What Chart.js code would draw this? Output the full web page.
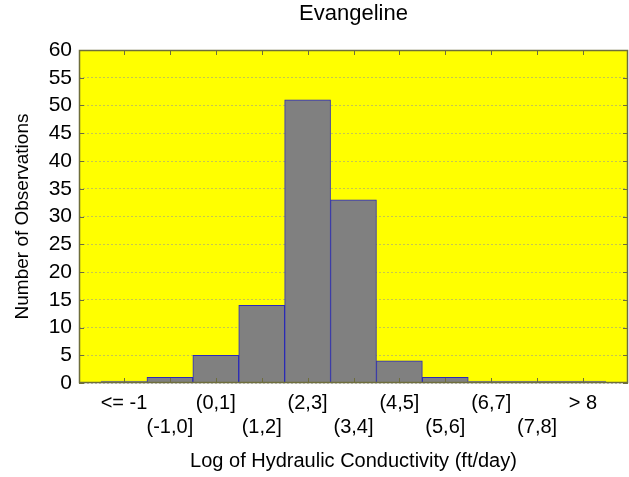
<!DOCTYPE html>
<html>
<head>
<meta charset="utf-8">
<script src="https://cdn.jsdelivr.net/npm/chart.js@4/dist/chart.umd.min.js"></script>
<style>
  html, body { margin: 0; padding: 0; background: #fff; }
  #wrap { width: 629px; height: 477px; }
</style>
</head>
<body>
<div id="wrap"><canvas id="chart" width="629" height="477"></canvas></div>
<script>
const binLabels = ["<= -1", "(-1,0]", "(0,1]", "(1,2]", "(2,3]", "(3,4]", "(4,5]", "(5,6]", "(6,7]", "(7,8]", "> 8"];
const counts = [0, 1, 5, 14, 51, 33, 4, 1, 0, 0, 0];
const yTicks = [0, 5, 10, 15, 20, 25, 30, 35, 40, 45, 50, 55, 60];

const frameColor = "#6e6e3c";
const fontFamily = "Liberation Sans, Arial, sans-serif";

// yellow plot background, frame and inward tick marks
const plotFrame = {
  id: "plotFrame",
  beforeDraw(chart) {
    const { ctx, chartArea: a } = chart;
    ctx.save();
    ctx.fillStyle = "#ffff00";
    ctx.fillRect(a.left, a.top, a.right - a.left, a.bottom - a.top);
    ctx.restore();
  },
  afterDraw(chart) {
    const { ctx, chartArea: a, scales } = chart;
    ctx.save();
    ctx.strokeStyle = frameColor;
    ctx.lineWidth = 1;
    ctx.beginPath();
    yTicks.forEach(v => {
      const y = Math.round(scales.y.getPixelForValue(v)) + 0.5;
      ctx.moveTo(a.left, y); ctx.lineTo(a.left + 5, y);
      ctx.moveTo(a.right, y); ctx.lineTo(a.right - 5, y);
    });
    binLabels.forEach((_, i) => {
      const x = Math.round(scales.x.getPixelForValue(i)) + 0.5;
      ctx.moveTo(x, a.bottom); ctx.lineTo(x, a.bottom - 5);
      ctx.moveTo(x, a.top); ctx.lineTo(x, a.top + 5);
    });
    ctx.stroke();
    ctx.lineWidth = 1.5;
    ctx.strokeRect(a.left + 0.5, a.top + 0.5, a.right - a.left - 1, a.bottom - a.top - 1);
    ctx.restore();
  }
};

new Chart(document.getElementById("chart"), {
  type: "bar",
  data: {
    datasets: [{
      data: counts.map((c, i) => ({ x: i, y: c })),
      backgroundColor: "#808080",
      borderColor: ctx => (ctx.raw && ctx.raw.y === 0 ? "#808080" : "#2a2ab8"),
      borderWidth: 1,
      borderSkipped: "bottom",
      minBarLength: 2,
      barPercentage: 1,
      categoryPercentage: 1
    }]
  },
  options: {
    responsive: false,
    animation: false,
    layout: { padding: { top: 0, right: 1, bottom: 0, left: 0 } },
    plugins: {
      legend: { display: false },
      tooltip: { enabled: false },
      title: {
        display: true,
        fullSize: false,
        text: "Evangeline",
        color: "#000",
        font: { family: fontFamily, size: 22, weight: "normal", lineHeight: 1.2 },
        padding: { top: 1, bottom: 22.6 }
      }
    },
    scales: {
      x: {
        type: "linear",
        offset: false,
        min: -0.98,
        max: 10.98,
        afterBuildTicks: s => { s.ticks = binLabels.map((_, i) => ({ value: i })); },
        afterFit: s => { s.height = 94; },
        grid: { display: false, drawTicks: false, offset: false },
        border: { display: false },
        ticks: {
          autoSkip: false,
          maxRotation: 0,
          padding: 8,
          color: "#000",
          font: { family: fontFamily, size: 20, lineHeight: 1.2 },
          callback: v => (v % 2 === 0 ? [binLabels[v], ""] : ["", binLabels[v]])
        },
        title: {
          display: true,
          text: "Log of Hydraulic Conductivity (ft/day)",
          color: "#000",
          font: { family: fontFamily, size: 20, lineHeight: 1.2 },
          padding: { top: 0, bottom: 4 }
        }
      },
      y: {
        min: 0,
        max: 60,
        afterBuildTicks: s => { s.ticks = yTicks.map(v => ({ value: v })); },
        afterFit: s => { s.width = 79; },
        grid: { color: "rgba(150,150,150,0.55)", drawTicks: false, lineWidth: 1 },
        border: { display: false, dash: [2, 2] },
        ticks: {
          autoSkip: false,
          padding: 7,
          color: "#000",
          font: { family: fontFamily, size: 21, lineHeight: 1 }
        },
        title: {
          display: true,
          text: "Number of Observations",
          color: "#000",
          font: { family: fontFamily, size: 19, lineHeight: 1.2 },
          padding: { top: 11.5, bottom: 0 }
        }
      }
    }
  },
  plugins: [plotFrame]
});
</script>
</body>
</html>
